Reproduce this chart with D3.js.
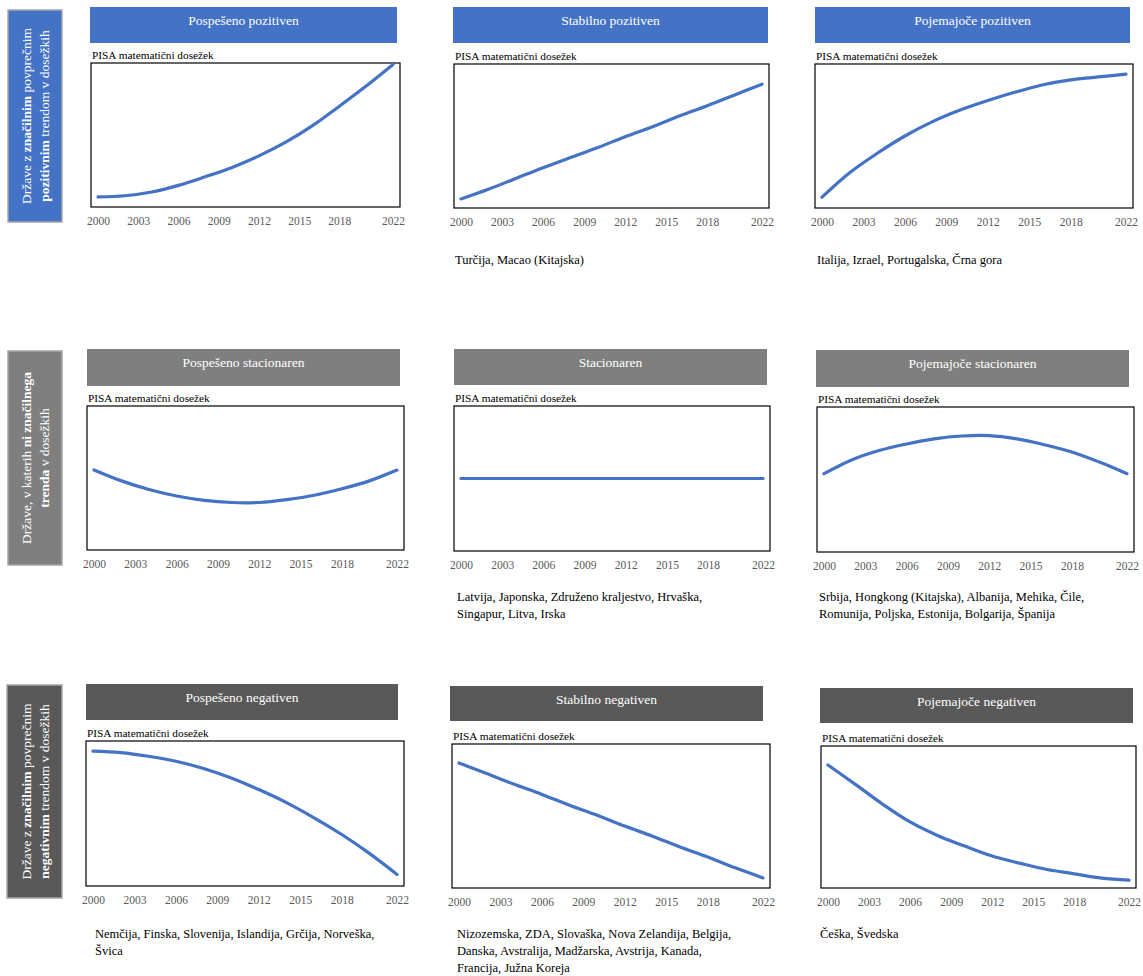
<!DOCTYPE html>
<html>
<head>
<meta charset="utf-8">
<script src="https://cdn.jsdelivr.net/npm/d3@7"></script>
<style>
  body { margin: 0; background: #fff; }
  svg text { font-family: "Liberation Serif", "Times New Roman", serif; }
</style>
</head>
<body>
<div class="chart"></div>
<script>
// data (values are 0..100 of the plot height)
var years = [2000, 2002, 2004, 2006, 2008, 2010, 2012, 2014, 2016, 2018, 2020, 2022];
var tickYears = [2000, 2003, 2006, 2009, 2012, 2015, 2018, 2022];
var yLabel = "PISA matematični dosežek";

var titles = ["Pospešeno pozitiven", "Stabilno pozitiven", "Pojemajoče pozitiven",
              "Pospešeno stacionaren", "Stacionaren", "Pojemajoče stacionaren",
              "Pospešeno negativen", "Stabilno negativen", "Pojemajoče negativen"];

var pospesenoPozitiven   = [7, 7.8, 10.4, 15, 21, 27.5, 35.5, 45, 56.5, 70, 84, 99];
var stabilnoPozitiven    = [6.3, 13, 20.5, 28, 35, 42, 49.5, 56.5, 64, 71, 78.5, 86];
var pojemajocePozitiven  = [7.5, 24.5, 38, 50, 60, 68, 74.6, 80.5, 85.6, 89, 91, 93];
var pospesenoStac        = [55.6, 48, 42, 37.5, 34.5, 33, 33, 35, 38, 42.5, 48, 55.5];
var stacionaren          = [50, 50, 50, 50, 50, 50, 50, 50, 50, 50, 50, 50];
var pojemajoceStac       = [54, 63.5, 70, 74.5, 78, 80, 80.3, 78, 74, 69, 62, 54];
var pospesenoNegativen   = [93, 92, 89.5, 86, 81, 74.5, 66.5, 57.5, 47, 35.5, 22.5, 8];
var stabilnoNegativen    = [86.8, 79.5, 72, 65, 57.5, 50.5, 43, 36, 28.5, 21.5, 14, 7];
var pojemajoceNegativen  = [86.6, 73, 59, 46.5, 37, 29.5, 22.5, 17.5, 13, 10, 7, 5.6];

var series = [pospesenoPozitiven, stabilnoPozitiven, pojemajocePozitiven,
              pospesenoStac, stacionaren, pojemajoceStac,
              pospesenoNegativen, stabilnoNegativen, pojemajoceNegativen];

var countries = [
  [],
  ["Turčija, Macao (Kitajska)"],
  ["Italija, Izrael, Portugalska, Črna gora"],
  [],
  ["Latvija, Japonska, Združeno kraljestvo, Hrvaška,", "Singapur, Litva, Irska"],
  ["Srbija, Hongkong (Kitajska), Albanija, Mehika, Čile,", "Romunija, Poljska, Estonija, Bolgarija, Španija"],
  ["Nemčija, Finska, Slovenija, Islandija, Grčija, Norveška,", "Švica"],
  ["Nizozemska, ZDA, Slovaška, Nova Zelandija, Belgija,", "Danska, Avstralija, Madžarska, Avstrija, Kanada,", "Francija, Južna Koreja"],
  ["Češka, Švedska"]
];

var sideLabels = [
  [[["Države z ", 0], ["značilnim", 1], [" povprečnim", 0]], [["pozitivnim", 1], [" trendom v dosežkih", 0]]],
  [[["Države, v katerih ", 0], ["ni značilnega", 1]], [["trenda", 1], [" v dosežkih", 0]]],
  [[["Države z ", 0], ["značilnim", 1], [" povprečnim", 0]], [["negativnim", 1], [" trendom v dosežkih", 0]]]
];

// layout
var rowColors = ["#4472C4", "#7F7F7F", "#595959"];
var sideBoxes = [
  {x: 8, y: 10, w: 54, h: 212},
  {x: 8, y: 351, w: 54, h: 214},
  {x: 7, y: 685, w: 55, h: 213}
];
var panels = [
  {hx: 90,  hy: 7,   hw: 307, hh: 36, bx: 91,  by: 63,  bw: 309, bh: 144, tx: 0,   ty: 0},
  {hx: 453, hy: 7,   hw: 315, hh: 36, bx: 454, by: 64,  bw: 315, bh: 144, tx: 455, ty: 264},
  {hx: 815, hy: 7,   hw: 315, hh: 36, bx: 815, by: 64,  bw: 318, bh: 144, tx: 817, ty: 264},
  {hx: 87,  hy: 349, hw: 313, hh: 37, bx: 87,  by: 406, bw: 317, bh: 144, tx: 0,   ty: 0},
  {hx: 454, hy: 349, hw: 313, hh: 36, bx: 454, by: 406, bw: 316, bh: 145, tx: 457, ty: 601},
  {hx: 816, hy: 350, hw: 313, hh: 37, bx: 817, by: 407, bw: 317, bh: 145, tx: 819, ty: 601},
  {hx: 86,  hy: 684, hw: 312, hh: 36, bx: 86,  by: 741, bw: 318, bh: 145, tx: 95,  ty: 938},
  {hx: 450, hy: 686, hw: 313, hh: 35, bx: 452, by: 744, bw: 318, bh: 144, tx: 457, ty: 938},
  {hx: 820, hy: 688, hw: 313, hh: 35, bx: 821, by: 746, bw: 315, bh: 142, tx: 820, ty: 938}
];

var svg = d3.select(".chart").append("svg")
    .attr("width", 1143)
    .attr("height", 976);

// row labels on the left
sideBoxes.forEach(function(b, r) {
    var g = svg.append("g");
    g.append("rect")
        .attr("x", b.x).attr("y", b.y)
        .attr("width", b.w).attr("height", b.h)
        .style("fill", rowColors[r])
        .style("stroke", "#A6A6A6")
        .style("stroke-width", "1.5px");
    var cx = b.x + b.w / 2, cy = b.y + b.h / 2;
    var t = g.append("text")
        .attr("transform", "translate(" + cx + "," + cy + ") rotate(-90)")
        .attr("text-anchor", "middle")
        .style("fill", "white")
        .style("font-size", "13.5px");
    sideLabels[r].forEach(function(line, li) {
        var ln = t.append("tspan")
            .attr("x", 0)
            .attr("y", li == 0 ? -4 : 14);
        line.forEach(function(part) {
            ln.append("tspan")
                .style("font-weight", part[1] ? "bold" : "normal")
                .text(part[0]);
        });
    });
});

panels.forEach(function(p, i) {
    var g = svg.append("g").attr("class", "panel");
    var color = rowColors[Math.floor(i / 3)];

    g.append("rect")
        .attr("x", p.hx).attr("y", p.hy)
        .attr("width", p.hw).attr("height", p.hh)
        .style("fill", color);
    g.append("text")
        .attr("x", p.hx + p.hw / 2)
        .attr("y", p.hy + 18)
        .attr("text-anchor", "middle")
        .style("fill", "white")
        .style("font-size", "13.5px")
        .text(titles[i]);

    g.append("text")
        .attr("x", p.bx + 1)
        .attr("y", p.by - 4)
        .style("font-size", "11.3px")
        .style("fill", "black")
        .text(yLabel);

    g.append("rect")
        .attr("x", p.bx).attr("y", p.by)
        .attr("width", p.bw).attr("height", p.bh)
        .style("fill", "white")
        .style("stroke", "black")
        .style("stroke-width", "1.2px");

    var x = d3.scaleLinear()
        .domain([2000, 2022])
        .range([p.bx + 7, p.bx + p.bw - 7]);
    var y = d3.scaleLinear()
        .domain([0, 100])
        .range([p.by + p.bh, p.by]);

    var line = d3.line()
        .x(function(d, k) { return x(years[k]); })
        .y(function(d) { return y(d); })
        .curve(d3.curveCatmullRom.alpha(0.5));

    g.append("path")
        .datum(series[i])
        .attr("d", line)
        .style("fill", "none")
        .style("stroke", "#4472C4")
        .style("stroke-width", "3.2px")
        .style("stroke-linecap", "round");

    var axis = g.append("g")
        .attr("transform", "translate(0," + (p.by + p.bh) + ")")
        .call(d3.axisBottom(x).tickValues(tickYears).tickFormat(d3.format("d")).tickSize(0).tickPadding(10));
    axis.attr("font-family", null);
    axis.select(".domain").remove();
    axis.selectAll("text")
        .style("font-size", "11.5px")
        .style("fill", "#595959");

    countries[i].forEach(function(c, k) {
        g.append("text")
            .attr("x", p.tx)
            .attr("y", p.ty + k * 17)
            .style("font-size", "12.5px")
            .style("fill", "black")
            .text(c);
    });
});
</script>
</body>
</html>
